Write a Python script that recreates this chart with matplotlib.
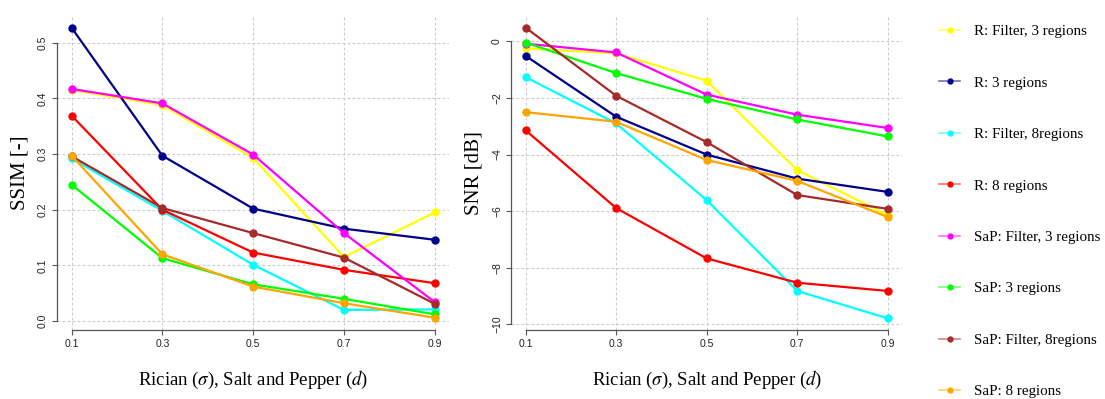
import matplotlib
matplotlib.use("Agg")
import matplotlib.pyplot as plt
from matplotlib.lines import Line2D
from matplotlib.colors import to_rgba

# noise level (Rician sigma / salt-and-pepper density)
noise = [0.1, 0.3, 0.5, 0.7, 0.9]

labels = ["R: Filter, 3 regions", "R: 3 regions", "R: Filter, 8regions", "R: 8 regions",
          "SaP: Filter, 3 regions", "SaP: 3 regions", "SaP: Filter, 8regions", "SaP: 8 regions"]
colors = ["#FFFF00", "#00008B", "#00FFFF", "#FF0000",
          "#FF00FF", "#00FF00", "#A52A2A", "#FFA500"]

ssim_r_filt3 = [0.415, 0.388, 0.293, 0.115, 0.195]
ssim_r_3 = [0.527, 0.297, 0.202, 0.166, 0.146]
ssim_r_filt8 = [0.292, 0.198, 0.101, 0.020, 0.021]
ssim_r_8 = [0.369, 0.200, 0.123, 0.092, 0.068]
ssim_sap_filt3 = [0.417, 0.391, 0.299, 0.158, 0.034]
ssim_sap_3 = [0.245, 0.113, 0.066, 0.040, 0.012]
ssim_sap_filt8 = [0.296, 0.203, 0.158, 0.114, 0.031]
ssim_sap_8 = [0.297, 0.120, 0.062, 0.032, 0.006]

snr_r_filt3 = [-0.25, -0.42, -1.39, -4.55, -6.14]
snr_r_3 = [-0.51, -2.66, -4.00, -4.85, -5.32]
snr_r_filt8 = [-1.26, -2.90, -5.61, -8.82, -9.79]
snr_r_8 = [-3.14, -5.89, -7.67, -8.53, -8.82]
snr_sap_filt3 = [-0.08, -0.39, -1.88, -2.59, -3.06]
snr_sap_3 = [-0.04, -1.12, -2.03, -2.76, -3.36]
snr_sap_filt8 = [0.49, -1.92, -3.56, -5.43, -5.92]
snr_sap_8 = [-2.50, -2.84, -4.19, -4.93, -6.21]

ssim = [ssim_r_filt3, ssim_r_3, ssim_r_filt8, ssim_r_8,
        ssim_sap_filt3, ssim_sap_3, ssim_sap_filt8, ssim_sap_8]
snr = [snr_r_filt3, snr_r_3, snr_r_filt8, snr_r_8,
       snr_sap_filt3, snr_sap_3, snr_sap_filt8, snr_sap_8]

ssim_ticks = [0.0, 0.1, 0.2, 0.3, 0.4, 0.5]
snr_ticks = [-10, -8, -6, -4, -2, 0]

plt.rcParams["mathtext.fontset"] = "stix"
serif = "Liberation Serif"
tickfont = "Liberation Sans"

fig = plt.figure(figsize=(11.05, 3.99), dpi=100)
ax1 = fig.add_axes([0.0516, 0.173, 0.355, 0.787])
ax2 = fig.add_axes([0.4625, 0.173, 0.354, 0.787])


def style(ax, yticks, ytext, ylim, ylabel):
    ax.set_xlim(0.068, 0.932)
    ax.set_ylim(*ylim)
    for s in ("top", "right"):
        ax.spines[s].set_visible(False)
    ax.spines["left"].set_bounds(yticks[0], yticks[-1])
    ax.spines["bottom"].set_bounds(noise[0], noise[-1])
    for s in ("left", "bottom"):
        ax.spines[s].set_color("#555555")
        ax.spines[s].set_linewidth(0.9)
    ax.set_xticks(noise)
    ax.set_xticklabels([f"{v:.1f}" for v in noise], fontsize=7.5, family=tickfont)
    ax.set_yticks(yticks)
    ax.set_yticklabels(ytext, fontsize=7.5, family=tickfont, rotation=90, va="center")
    ax.tick_params(length=3.5, width=0.8, color="#555555", labelcolor="#222222", pad=3)
    ax.grid(True, color="#CCCCCC", linestyle=(0, (2.5, 2)), linewidth=0.8)
    ax.set_axisbelow(True)
    ax.set_ylabel(ylabel, fontsize=15, family=serif, labelpad=6)
    ax.set_xlabel(r"Rician ($\sigma$), Salt and Pepper ($d$)", fontsize=13.5,
                  family=serif, labelpad=14)


for vals, c in zip(ssim, colors):
    ax1.plot(noise, vals, color=c, lw=1.6, marker="o", ms=5, zorder=3)
for vals, c in zip(snr, colors):
    ax2.plot(noise, vals, color=c, lw=1.6, marker="o", ms=5, zorder=3)

style(ax1, ssim_ticks, [f"{v:.1f}" for v in ssim_ticks], (-0.016, 0.548), "SSIM [-]")
style(ax2, snr_ticks, [f"{v:d}".replace("-", "\u2212") for v in snr_ticks],
      (-10.2, 0.9), "SNR [dB]")

handles = [Line2D([], [], color=to_rgba(c, 0.55), lw=1.2, marker="o", ms=3.5,
                  markerfacecolor=c, markeredgecolor=c) for c in colors]
fig.legend(handles, labels, loc="upper left", bbox_to_anchor=(0.838, 0.972),
           frameon=False, handlelength=1.4, handletextpad=0.9, labelspacing=2.53,
           prop={"family": serif, "size": 10.8})

fig.savefig("out.png", dpi=100)
